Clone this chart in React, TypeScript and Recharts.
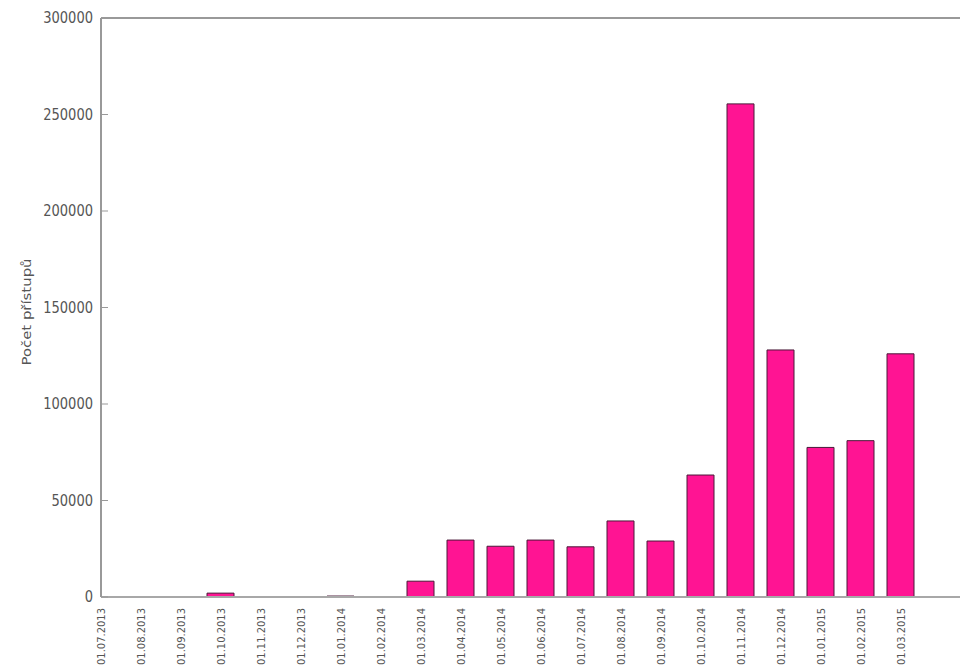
import React from 'react';
import { BarChart, Bar, XAxis, YAxis, ReferenceLine } from 'recharts';

const months = [
  '01.07.2013', '01.08.2013', '01.09.2013', '01.10.2013', '01.11.2013', '01.12.2013',
  '01.01.2014', '01.02.2014', '01.03.2014', '01.04.2014', '01.05.2014', '01.06.2014',
  '01.07.2014', '01.08.2014', '01.09.2014', '01.10.2014', '01.11.2014', '01.12.2014',
  '01.01.2015', '01.02.2015', '01.03.2015',
];

const accesses = [
  0, 0, 0, 2000, 0, 0,
  500, 0, 8200, 29500, 26300, 29500,
  26000, 39400, 29000, 63200, 255500, 128000,
  77500, 81000, 126000,
];

const yTicks = [0, 50000, 100000, 150000, 200000, 250000, 300000];
const xDomainMax = 22;
const yLabel = 'Počet přístupů';

const data = months.map((m, i) => ({ idx: i, label: m, value: accesses[i] }));
const xTicks = months.map((_, i) => i);

const FONT = '"DejaVu Sans", Tahoma, sans-serif';

const YTickLeft = (props: any) => {
  const { x, y, payload } = props;
  const s = String(payload.value);
  return (
    <g>
      <line x1={x} x2={x + 7} y1={y} y2={y} stroke="#999" strokeWidth={1} />
      <text
        x={x - 8}
        y={y}
        textAnchor="end"
        dominantBaseline="central"
        fontFamily={FONT}
        fontSize={15}
        fill="#555"
        textLength={s.length * 8.3}
        lengthAdjust="spacingAndGlyphs"
      >
        {s}
      </text>
    </g>
  );
};

const XTick = (props: any) => {
  const { x, y, payload } = props;
  const label = months[payload.value] ?? '';
  const ty = y + 9;
  return (
    <text
      x={x}
      y={ty}
      transform={`rotate(-90, ${x}, ${ty})`}
      textAnchor="end"
      dominantBaseline="central"
      fontFamily={FONT}
      fontSize={10}
      fill="#555"
      textLength={57}
      lengthAdjust="spacingAndGlyphs"
    >
      {label}
    </text>
  );
};

const YLabelContent = () => (
  <text
    x={26}
    y={312}
    transform="rotate(-90, 26, 312)"
    textAnchor="middle"
    dominantBaseline="central"
    fontFamily={FONT}
    fontSize={13}
    fill="#555"
    textLength={107}
    lengthAdjust="spacingAndGlyphs"
  >
    {yLabel}
  </text>
);

export default function App() {
  return (
    <div
      style={{
        position: 'absolute',
        left: 0,
        top: 0,
        width: 960,
        height: 667,
        overflow: 'hidden',
        background: '#fff',
      }}
    >
      <BarChart
        width={985}
        height={667}
        data={data}
        margin={{ top: 18, right: 4, left: 0, bottom: 0 }}
      >
        <XAxis
          dataKey="idx"
          type="number"
          domain={[0, xDomainMax]}
          allowDataOverflow
          ticks={xTicks}
          allowDecimals={false}
          interval={0}
          height={70}
          tickLine={false}
          tickSize={0}
          tick={<XTick />}
          axisLine={{ stroke: '#a8a8a8', strokeWidth: 2 }}
        />
        <YAxis
          yAxisId="left"
          domain={[0, 300000]}
          ticks={yTicks}
          width={101}
          tickLine={false}
          tickSize={0}
          tickMargin={0}
          tick={<YTickLeft />}
          axisLine={{ stroke: '#999', strokeWidth: 2 }}
          label={<YLabelContent />}
        />
        <ReferenceLine yAxisId="left" y={300000} stroke="#999" strokeWidth={2} />
        <Bar
          yAxisId="left"
          dataKey="value"
          barSize={27}
          fill="#FF1493"
          stroke="#4a1838"
          strokeWidth={1}
          isAnimationActive={false}
        />
      </BarChart>
    </div>
  );
}
